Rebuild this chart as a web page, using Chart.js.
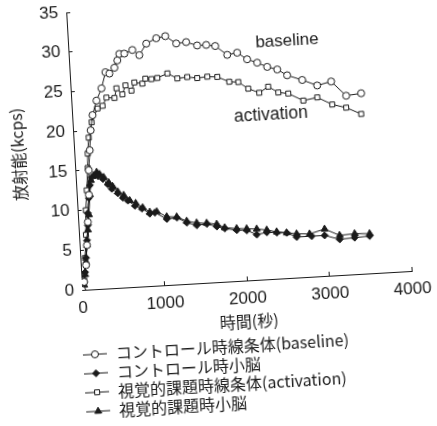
<!DOCTYPE html>
<html><head><meta charset="utf-8">
<script src="https://cdn.jsdelivr.net/npm/chart.js@4.4.1/dist/chart.umd.min.js"></script>
<style>
html,body{margin:0;padding:0;background:#fff;width:437px;height:426px;overflow:hidden;}
#wrap{position:absolute;left:-20px;top:-20px;width:477px;height:466px;transform:rotate(-3.3deg);transform-origin:50% 50%;background:#fff;}
canvas{display:block;}
</style></head><body>
<div id="wrap"><canvas id="c" width="477" height="466"></canvas></div>
<script>
// ---- data (time in seconds, radioactivity in kcps) ----
const seriesLabels = [
  'コントロール時線条体(baseline)',
  'コントロール時小脳',
  '視覚的課題時線条体(activation)',
  '視覚的課題時小脳'
];
const timeBaseline = [0,29,64,89,116,147,163,189,214,247,305,374,433,480,545,585,614,674,774,855,947,1071,1182,1310,1431,1562,1672,1780,1919,2040,2157,2276,2394,2514,2630,2809,2986,3158,3330,3513];
const valueBaseline = [0,1.0,3.1,5.6,8.5,11.9,15.0,17.5,20.0,21.9,23.7,25.2,27.2,27.0,27.7,28.6,29.4,29.4,29.8,29.1,30.5,31.1,31.3,30.3,30.4,29.9,29.9,29.7,28.5,28.7,27.8,27.3,26.7,26.3,25.5,24.8,24.0,24.4,22.5,22.7];

const timeControlCb = [0,29,48,69,93,115,122,145,166,195,232,268,327,383,429,498,556,615,696,779,871,933,1074,1196,1312,1432,1554,1674,1768,1912,2033,2151,2274,2395,2515,2633,2815,2972,3152,3334,3516];
const valueControlCb = [0,0.9,2.2,4.0,6.2,8.1,9.6,11.5,13.1,14.1,14.3,14.2,13.8,13.1,12.5,11.9,11.3,10.9,10.2,9.8,9.1,9.2,8.3,8.4,7.7,7.3,7.4,7.0,6.7,6.4,6.3,5.7,5.9,5.8,5.7,5.1,5.1,5.1,4.5,4.6,4.7];

const timeActivation = [0,31,57,84,100,125,152,162,185,231,312,375,428,525,555,623,666,735,776,872,912,985,1057,1182,1299,1420,1540,1663,1784,1925,2034,2150,2280,2393,2511,2631,2808,2979,3155,3322,3499];
const valueActivation = [0,1.2,4.0,6.9,10.0,12.5,15.3,17.1,19.1,21.0,22.7,23.0,24.0,23.9,25.1,24.3,25.4,24.7,25.7,25.5,26.1,26.0,26.1,26.6,25.9,26.0,25.8,25.9,25.8,25.1,25.0,24.1,23.5,24.2,23.4,23.2,22.2,22.5,21.5,21.0,20.1];

const timeTaskCb = [0,27,46,66,89,111,134,159,181,220,258,293,340,397,442,500,569,639,709,791,873,958,1075,1196,1314,1433,1554,1675,1769,1913,2034,2155,2276,2395,2515,2635,2792,2976,3154,3337,3518];
const valueTaskCb = [0,0.6,1.9,3.5,5.6,7.5,9.4,11.9,13.7,14.3,14.7,14.4,14.0,13.3,12.8,12.1,11.6,10.9,10.5,9.9,9.3,9.3,8.6,8.5,7.9,7.6,7.5,7.3,6.8,6.6,6.5,6.4,6.2,5.9,5.7,5.5,5.4,5.9,5.0,5.1,5.0];

const xTicksStep = 1000, xMax = 4000;
const yTicksStep = 5, yMax = 35;
const xTitle = '時間(秒)';
const yTitle = '放射能(kcps)';
const curveNotes = [{text:'baseline', x:2652, y:29.8, size:17}, {text:'activation', x:2406, y:20.6, size:17.5}];

// ---- styling ----
const INK = '#1a1a1a';
const JP = '"Noto Sans CJK JP", "Noto Sans", sans-serif';
const LAT = '"Liberation Sans", Arial, sans-serif';
const zip = (t, v) => t.map((x, i) => ({x, y: v[i]}));

function ds(label, t, v, style, fill) {
  return {
    label, data: zip(t, v),
    borderColor: INK, borderWidth: 1,
    pointStyle: style, pointRadius: style === 'triangle' ? 4 : 3.5,
    pointBorderWidth: 1, pointBorderColor: INK,
    pointBackgroundColor: fill,
    tension: 0, fill: false
  };
}

const datasets = [
  ds(seriesLabels[0], timeBaseline, valueBaseline, 'circle', '#fff'),
  ds(seriesLabels[1], timeControlCb, valueControlCb, 'rectRot', INK),
  ds(seriesLabels[2], timeActivation, valueActivation, 'rect', '#fff'),
  ds(seriesLabels[3], timeTaskCb, valueTaskCb, 'triangle', INK)
];

const extrasPlugin = {
  id: 'extras',
  afterDraw(chart) {
    const ctx = chart.ctx;
    const xs = chart.scales.x, ys = chart.scales.y;
    ctx.save();
    // curve annotations
    ctx.fillStyle = INK;
    ctx.textBaseline = 'middle';
    ctx.textAlign = 'center';
    curveNotes.forEach(n => {
      ctx.font = n.size + 'px ' + LAT;
      ctx.fillText(n.text, xs.getPixelForValue(n.x), ys.getPixelForValue(n.y));
    });
    // legend (vertical list below the axes)
    const x0 = 95, x1 = 119, xt = 128, yStart = 367, dy = 19;
    chart.data.datasets.forEach((d, i) => {
      const y = yStart + i * dy;
      ctx.strokeStyle = INK; ctx.lineWidth = 1;
      ctx.beginPath(); ctx.moveTo(x0, y); ctx.lineTo(x1, y); ctx.stroke();
      ctx.fillStyle = d.pointBackgroundColor; ctx.strokeStyle = INK;
      Chart.helpers.drawPoint(ctx, {pointStyle: d.pointStyle, radius: d.pointRadius, borderWidth: 1, rotation: 0}, (x0 + x1) / 2, y);
      ctx.fillStyle = INK;
      ctx.font = '16px ' + JP;
      ctx.textAlign = 'left';
      ctx.textBaseline = 'middle';
      ctx.fillText(d.label, xt, y);
    });
    ctx.restore();
  }
};

new Chart(document.getElementById('c'), {
  type: 'line',
  data: {datasets},
  options: {
    responsive: false,
    animation: false,
    devicePixelRatio: 1,
    layout: {padding: {left: 0, top: 24, right: 49, bottom: 112}},
    plugins: {legend: {display: false}, tooltip: {enabled: false}},
    scales: {
      x: {
        type: 'linear', min: 0, max: xMax,
        ticks: {stepSize: xTicksStep, color: INK, font: {family: LAT, size: 17}, padding: 12, maxRotation: 0,
                callback: v => String(v)},
        grid: {drawOnChartArea: false, drawTicks: true, tickLength: -4, color: INK, lineWidth: 1},
        border: {color: INK, width: 1},
        title: {display: true, text: xTitle, color: INK, font: {family: JP, size: 16}, padding: {top: 0, bottom: 1}},
        afterFit: s => { s.height = 52; }
      },
      y: {
        min: 0, max: yMax,
        ticks: {stepSize: yTicksStep, color: INK, font: {family: LAT, size: 17}, padding: 12,
                callback: v => String(v)},
        grid: {drawOnChartArea: false, drawTicks: true, tickLength: -4, color: INK, lineWidth: 1},
        border: {color: INK, width: 1},
        title: {display: true, text: yTitle, color: INK, font: {family: JP, size: 16}, padding: {top: 32, bottom: 0}},
        afterFit: s => { s.width = 98; }
      }
    }
  },
  plugins: [extrasPlugin]
});
</script>
</body></html>
